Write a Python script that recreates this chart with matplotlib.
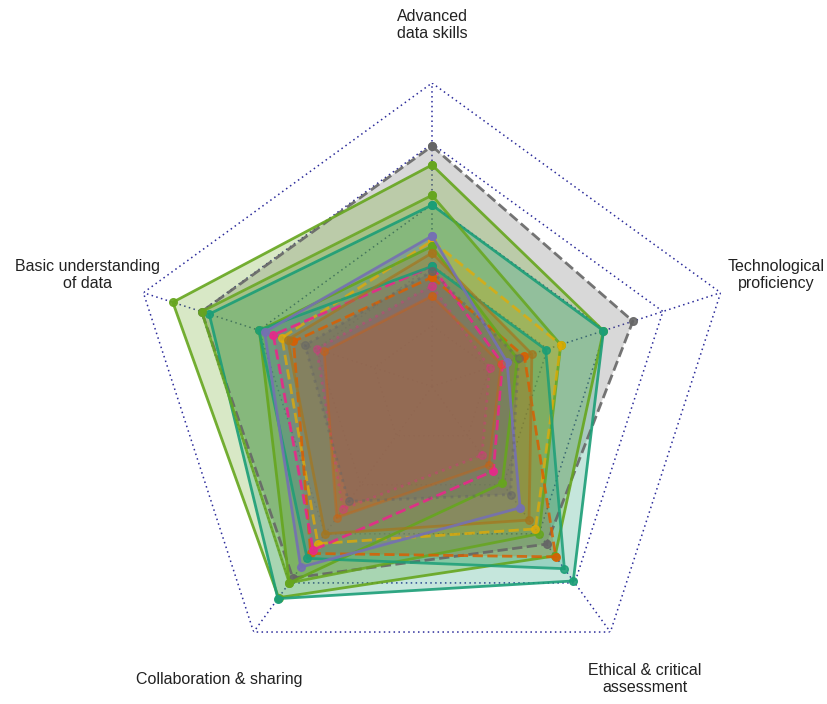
import numpy as np
import matplotlib
matplotlib.use("Agg")
import matplotlib.pyplot as plt

plt.rcParams['font.family'] = ['Liberation Sans', 'DejaVu Sans']

categories = ["Advanced\ndata skills", "Technological\nproficiency",
              "Ethical & critical\nassessment", "Collaboration & sharing",
              "Basic understanding\nof data"]

# values per series: [Advanced, Technological, Ethical, Collaboration, Basic]
s_gray_big     = [3.96, 3.48, 3.21, 3.90, 3.99]
s_lime_big     = [3.65, 2.97, 3.45, 4.30, 4.49]
s_teal_big     = [2.99, 2.97, 3.96, 4.32, 3.86]
s_olive_mid    = [3.15, 2.23, 3.00, 4.00, 3.99]
s_yellow_mid   = [2.40, 2.23, 2.90, 3.20, 2.60]
s_orange_mid   = [1.80, 1.60, 3.47, 3.40, 2.40]
s_pink_mid     = [1.98, 1.22, 1.72, 3.33, 2.75]
s_lime_small   = [2.31, 1.48, 1.97, 4.00, 2.99]
s_teal_mid     = [1.98, 1.97, 3.71, 3.50, 3.00]
s_pink_small   = [1.66, 1.00, 1.40, 2.50, 2.00]
s_brown_mid    = [2.20, 1.73, 2.72, 3.00, 2.50]
s_purple_mid   = [2.48, 1.30, 2.47, 3.68, 2.90]
s_orange_small = [1.49, 1.20, 1.60, 2.67, 1.87]
s_gray_small   = [1.90, 1.50, 2.20, 2.34, 2.20]

series = [s_gray_big, s_lime_big, s_teal_big, s_olive_mid, s_yellow_mid,
          s_orange_mid, s_pink_mid, s_lime_small, s_teal_mid, s_pink_small,
          s_brown_mid, s_purple_mid, s_orange_small, s_gray_small]
colors = ['#666666', '#66a61e', '#1b9e77', '#66a61e', '#e6ab02',
          '#d95f02', '#e7298a', '#66a61e', '#1b9e77', '#e7298a',
          '#a6761d', '#7570b3', '#d95f02', '#666666']
styles = ['--', '-', '-', '-', '--',
          '--', '--', '-', '-', ':',
          '-', '-', '-', ':']
line_alpha = [0.9, 0.9, 0.9, 0.85, 0.75,
              0.85, 0.9, 0.9, 0.85, 0.35,
              0.7, 0.9, 0.35, 0.5]

n = len(categories)
angles = np.linspace(0, 2 * np.pi, n, endpoint=False)
ang_closed = np.concatenate([angles, angles[:1]])

fig = plt.figure(figsize=(8.28, 7.04), dpi=100)
ax = fig.add_axes([0.1552, 0.0199, 0.7331, 0.8622], projection='polar')
ax.set_theta_offset(np.pi / 2)
ax.set_theta_direction(-1)
ax.set_ylim(0, 5)
ax.set_xticks([])
ax.set_yticks([])
ax.grid(False)
ax.spines['polar'].set_visible(False)
ax.patch.set_alpha(0)

# grid (below the fills)
grid_color = '#2b2b9a'
gls = (0, (1, 2.2))
for lvl in [1, 2, 3, 4, 5]:
    ax.plot(ang_closed, [lvl] * (n + 1), color=grid_color, linestyle=gls,
            linewidth=1.1, zorder=1)
for a in angles:
    ax.plot([a, a], [0, 5], color=grid_color, linestyle=gls, linewidth=1.1,
            zorder=1)

# fills
for k, (vals, c) in enumerate(zip(series, colors)):
    v = np.concatenate([vals, vals[:1]])
    ax.fill(ang_closed, v, color=c, alpha=0.25, zorder=2 + k * 0.01,
            linewidth=0)

# outlines and markers
for vals, c, ls, la in zip(series, colors, styles, line_alpha):
    v = np.concatenate([vals, vals[:1]])
    ax.plot(ang_closed, v, color=c, linestyle=ls, linewidth=2.0, alpha=la,
            marker='o', markersize=5.5, zorder=3)

for a, lab in zip(angles, categories):
    ax.text(a, 5.96, lab, ha='center', va='center', fontsize=11.5,
            multialignment='center', color='#222222')

fig.savefig("out.png", dpi=100)
